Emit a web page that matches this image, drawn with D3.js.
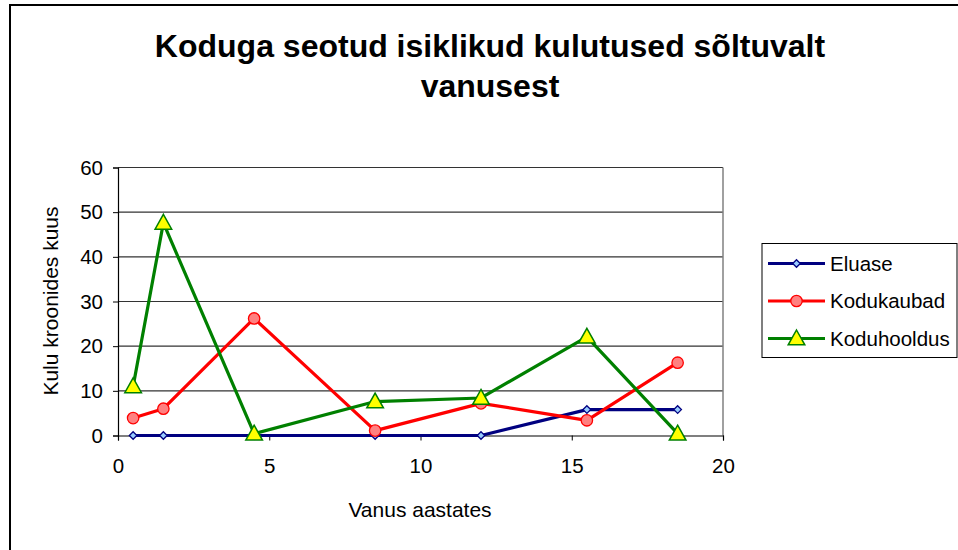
<!DOCTYPE html>
<html><head><meta charset="utf-8">
<script src="https://cdn.jsdelivr.net/npm/d3@7"></script>
<style>body{margin:0;background:#fff}svg{display:block;font-family:Arial,"Liberation Sans",sans-serif}</style>
</head><body><svg id="c" width="958" height="550"></svg>
<script>
const titleLines = ["Koduga seotud isiklikud kulutused sõltuvalt", "vanusest"];
const xTitle = "Vanus aastates";
const yTitle = "Kulu kroonides kuus";
const ages = [0.5, 1.5, 4.5, 8.5, 12, 15.5, 18.5];
const seriesNames = ["Eluase", "Kodukaubad", "Koduhooldus"];
const eluase = [0, 0, 0, 0, 0, 5.8, 5.8];
const kodukaubad = [3.9, 6.0, 26.2, 1.1, 7.2, 3.4, 16.3];
const koduhooldus = [11, 47.6, 0.4, 7.6, 8.4, 22.1, 0.4];
const xTicks = [0, 5, 10, 15, 20];
const yTicks = [0, 10, 20, 30, 40, 50, 60];

const svg = d3.select("#c");
svg.append("path").attr("d","M10,560 L10,5 L970,5").attr("fill","none").attr("stroke","#000").attr("stroke-width",2);

const x = d3.scaleLinear().domain([0,20]).range([118,723]);
const y = d3.scaleLinear().domain([0,60]).range([435.5,167.5]);

svg.append("g").selectAll("line").data(yTicks.filter(d=>d>0)).join("line")
  .attr("x1",118).attr("x2",723).attr("y1",d=>y(d)).attr("y2",d=>y(d))
  .attr("stroke","#333").attr("stroke-width",1.2);
svg.append("line").attr("x1",723).attr("x2",723).attr("y1",167.5).attr("y2",435.5).attr("stroke","#808080").attr("stroke-width",1.5);

const yAxis = svg.append("g").attr("transform","translate(118,0)")
  .call(d3.axisLeft(y).tickValues(yTicks).tickSize(5).tickPadding(10));
const xAxis = svg.append("g").attr("transform","translate(0,435.5)")
  .call(d3.axisBottom(x).tickValues(xTicks).tickSize(5).tickPadding(18));
[yAxis,xAxis].forEach(a=>{
  a.select(".domain").attr("stroke","#000").attr("stroke-width",1.2);
  a.selectAll(".tick line").attr("stroke","#000");
  a.selectAll("text").attr("font-size",20.5).attr("font-family","Arial").attr("fill","#000");
});

svg.append("text").attr("text-anchor","middle").attr("font-size",32).attr("font-weight","bold")
  .selectAll("tspan").data(titleLines).join("tspan").attr("x",490).attr("y",(d,i)=>57+i*40).text(d=>d);
svg.append("text").attr("x",420).attr("y",517).attr("text-anchor","middle").attr("font-size",21).text(xTitle);
svg.append("text").attr("transform","translate(58,301) rotate(-90)").attr("text-anchor","middle").attr("font-size",21).text(yTitle);

const series = [
  {name:seriesNames[0], vals:eluase, stroke:"#000080", fill:"#99ccff", marker:"diamond"},
  {name:seriesNames[1], vals:kodukaubad, stroke:"#ff0000", fill:"#ff8080", marker:"circle"},
  {name:seriesNames[2], vals:koduhooldus, stroke:"#008000", fill:"#ffff00", marker:"triangle"}
];
function drawMarker(g, type, s, cx, cy){
  if(type==="diamond"){
    g.append("path").attr("d",`M${cx},${cy-3.8}L${cx+3.8},${cy}L${cx},${cy+3.8}L${cx-3.8},${cy}Z`)
      .attr("fill",s.fill).attr("stroke",s.stroke).attr("stroke-width",1.3);
  } else if(type==="circle"){
    g.append("circle").attr("cx",cx).attr("cy",cy).attr("r",5.7).attr("fill",s.fill).attr("stroke",s.stroke).attr("stroke-width",1.3);
  } else {
    g.append("path").attr("d",`M${cx},${cy-8.5}L${cx+8.3},${cy+6.3}L${cx-8.3},${cy+6.3}Z`)
      .attr("fill",s.fill).attr("stroke",s.stroke).attr("stroke-width",1.5);
  }
}
const line = d3.line().x(d=>x(d[0])).y(d=>y(d[1]));
series.forEach(s=>{
  const pts = ages.map((a,i)=>[a,s.vals[i]]);
  svg.append("path").attr("d",line(pts)).attr("fill","none").attr("stroke",s.stroke).attr("stroke-width",3.2).attr("stroke-linejoin","round");
});
series.forEach(s=>{
  const g = svg.append("g");
  ages.forEach((a,i)=>drawMarker(g,s.marker,s,x(a),y(s.vals[i])));
});

const lg = svg.append("g");
lg.append("rect").attr("x",762).attr("y",243.5).attr("width",195).attr("height",114).attr("fill","#fff").attr("stroke","#000").attr("stroke-width",1);
series.forEach((s,i)=>{
  const ly = 263.5 + i*37.5;
  lg.append("line").attr("x1",768).attr("x2",825).attr("y1",ly).attr("y2",ly).attr("stroke",s.stroke).attr("stroke-width",3.2);
  drawMarker(lg,s.marker,s,796.5,ly);
  lg.append("text").attr("x",830).attr("y",ly+7).attr("font-size",20.5).text(s.name);
});
</script></body></html>
